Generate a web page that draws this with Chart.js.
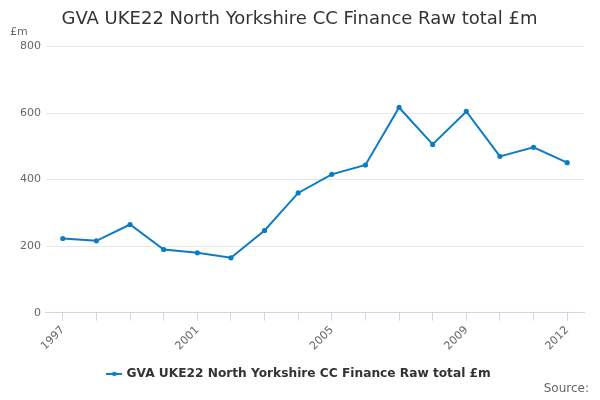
<!DOCTYPE html>
<html>
<head>
<meta charset="utf-8">
<script src="https://cdn.jsdelivr.net/npm/chart.js@4"></script>
<style>
  html, body { margin: 0; padding: 0; background: #fff; }
  #wrap { width: 600px; height: 400px; position: relative; }
</style>
</head>
<body>
<div id="wrap"><canvas id="c" width="600" height="400"></canvas></div>
<script>
const years = ['1997','1998','1999','2000','2001','2002','2003','2004','2005','2006','2007','2008','2009','2010','2011','2012'];
const values = [223,216,265,190,180,165,247,360,416,444,617,506,605,470,497,451];
const shownYears = ['1997','2001','2005','2009','2012'];
const seriesName = 'GVA UKE22 North Yorkshire CC Finance Raw total £m';
const titleText = 'GVA UKE22 North Yorkshire CC Finance Raw total £m';
const unitLabel = '£m';
const sourceLabel = 'Source:';
const yMax = 800;
const yStep = 200;

const lineColor = '#0c7cc3';
const fontFamily = '"DejaVu Sans", Verdana, sans-serif';

// legend symbol: line with a dot
const sym = document.createElement('canvas');
sym.width = 16; sym.height = 6;
(function(){
  const g = sym.getContext('2d');
  g.strokeStyle = lineColor; g.lineWidth = 2;
  g.beginPath(); g.moveTo(0, 3); g.lineTo(16, 3); g.stroke();
  g.fillStyle = lineColor;
  g.beginPath(); g.arc(8, 3, 2.2, 0, Math.PI * 2); g.fill();
})();

const extraText = {
  id: 'extraText',
  afterDraw(chart) {
    const ctx = chart.ctx;
    ctx.save();
    ctx.font = '11px ' + fontFamily;
    ctx.fillStyle = '#666';
    ctx.textAlign = 'left';
    ctx.textBaseline = 'middle';
    ctx.fillText(unitLabel, 10, 32);
    ctx.font = '12px ' + fontFamily;
    ctx.textAlign = 'right';
    ctx.fillText(sourceLabel, 589, 389);
    ctx.restore();
  }
};

new Chart(document.getElementById('c'), {
  type: 'line',
  data: {
    labels: years,
    datasets: [{
      label: seriesName,
      data: values,
      borderColor: lineColor,
      backgroundColor: lineColor,
      borderWidth: 2,
      pointRadius: 1.6,
      pointHoverRadius: 3,
      tension: 0,
      fill: false
    }]
  },
  options: {
    responsive: false,
    animation: false,
    layout: { padding: { left: 15, right: 16, top: 0, bottom: 10 } },
    plugins: {
      title: {
        display: true,
        text: titleText,
        color: '#333',
        font: { family: fontFamily, size: 18, weight: 'normal' },
        padding: { top: 9, bottom: 16 }
      },
      legend: {
        position: 'bottom',
        labels: {
          color: '#333',
          font: { family: fontFamily, size: 12.2, weight: 'bold' },
          usePointStyle: true,
          padding: 8,
          generateLabels(chart) {
            const base = Chart.defaults.plugins.legend.labels.generateLabels(chart);
            base.forEach(l => { l.pointStyle = sym; });
            return base;
          }
        }
      },
      tooltip: { enabled: false }
    },
    scales: {
      x: {
        offset: true,
        afterFit(scale) { scale.height += 4; },
        grid: {
          drawOnChartArea: false,
          drawTicks: true,
          tickLength: 8,
          color: '#ccd6eb'
        },
        border: { display: true, color: '#ccd6eb' },
        ticks: {
          autoSkip: false,
          minRotation: 45,
          maxRotation: 45,
          color: '#666',
          font: { family: fontFamily, size: 11 },
          callback(val, idx) {
            const lab = years[idx];
            return shownYears.includes(lab) ? lab : '';
          }
        }
      },
      y: {
        min: 0,
        max: yMax,
        grid: { color: '#e6e6e6', drawTicks: false },
        border: { display: false },
        ticks: {
          stepSize: yStep,
          padding: 5,
          color: '#666',
          font: { family: fontFamily, size: 11 }
        }
      }
    }
  },
  plugins: [extraText]
});
</script>
</body>
</html>
